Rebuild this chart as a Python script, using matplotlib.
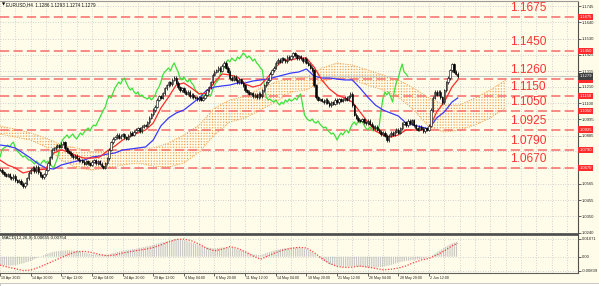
"""EURUSD H4 chart with Ichimoku cloud, support/resistance levels and MACD."""

import numpy as np
import matplotlib
matplotlib.use("Agg")
from matplotlib import pyplot as plt
from matplotlib import transforms
from matplotlib.patches import Rectangle

W, H = 599, 286
BG = "#fffde9"

symbol_line = "EURUSD,H4  1.1286 1.1293 1.1274 1.1279"
macd_line = "MACD(12,26,9) 0.00655 0.00754"

# H4 closes, one per bar (10 Apr 2015 04:00 ... 5 Jun 2015 00:00)
close = [
    1.0657, 1.0643, 1.0630, 1.0617, 1.0630, 1.0610, 1.0603, 1.0617, 1.0590, 1.0577,
    1.0584, 1.0564, 1.0550, 1.0570, 1.0603, 1.0637, 1.0657, 1.0670, 1.0650, 1.0677,
    1.0643, 1.0623, 1.0610, 1.0630, 1.0657, 1.0703, 1.0743, 1.0790, 1.0803, 1.0810,
    1.0823, 1.0810, 1.0830, 1.0843, 1.0803, 1.0783, 1.0770, 1.0756, 1.0743, 1.0750,
    1.0736, 1.0723, 1.0723, 1.0710, 1.0697, 1.0716, 1.0703, 1.0690, 1.0710, 1.0723,
    1.0703, 1.0716, 1.0697, 1.0683, 1.0670, 1.0703, 1.0736, 1.0790, 1.0843, 1.0863,
    1.0876, 1.0890, 1.0870, 1.0883, 1.0896, 1.0876, 1.0863, 1.0883, 1.0903, 1.0890,
    1.0910, 1.0923, 1.0936, 1.0916, 1.0943, 1.0956, 1.0950, 1.0976, 1.1003, 1.1029,
    1.1056, 1.1076, 1.1123, 1.1149, 1.1136, 1.1169, 1.1202, 1.1222, 1.1242, 1.1229,
    1.1256, 1.1269, 1.1236, 1.1209, 1.1189, 1.1202, 1.1176, 1.1163, 1.1176, 1.1149,
    1.1156, 1.1142, 1.1136, 1.1129, 1.1142, 1.1123, 1.1136, 1.1156, 1.1189, 1.1209,
    1.1242, 1.1289, 1.1309, 1.1322, 1.1336, 1.1316, 1.1349, 1.1369, 1.1336, 1.1309,
    1.1269, 1.1256, 1.1276, 1.1256, 1.1242, 1.1262, 1.1236, 1.1222, 1.1189, 1.1176,
    1.1163, 1.1169, 1.1149, 1.1156, 1.1142, 1.1163, 1.1149, 1.1189, 1.1222, 1.1242,
    1.1256, 1.1296, 1.1322, 1.1336, 1.1369, 1.1389, 1.1376, 1.1402, 1.1389, 1.1382,
    1.1409, 1.1396, 1.1415, 1.1435, 1.1422, 1.1402, 1.1415, 1.1402, 1.1382, 1.1396,
    1.1369, 1.1356, 1.1336, 1.1322, 1.1222, 1.1142, 1.1123, 1.1129, 1.1116, 1.1109,
    1.1123, 1.1103, 1.1089, 1.1109, 1.1096, 1.1123, 1.1109, 1.1129, 1.1116, 1.1123,
    1.1136, 1.1123, 1.1149, 1.1163, 1.1089, 1.1023, 1.1003, 1.0989, 1.0983, 1.0996,
    1.0976, 1.0969, 1.0983, 1.0963, 1.0950, 1.0936, 1.0943, 1.0923, 1.0910, 1.0896,
    1.0903, 1.0883, 1.0856, 1.0883, 1.0903, 1.0890, 1.0910, 1.0923, 1.0903, 1.0936,
    1.0963, 1.0976, 1.0956, 1.0983, 1.0969, 1.0989, 1.0956, 1.0936, 1.0923, 1.0943,
    1.0930, 1.0916, 1.0936, 1.0923, 1.0950, 1.1056, 1.1136, 1.1176, 1.1156, 1.1176,
    1.1142, 1.1109, 1.1189, 1.1242, 1.1269, 1.1322, 1.1362, 1.1309, 1.1296, 1.1279,
]
chikou_shift = 26

# indicator lines sampled every 4 bars
line_bars = list(range(0, 240, 4)) + [239]
tenkan = [
    1.0723, 1.0690, 1.0670, 1.0637, 1.0650, 1.0657, 1.0663, 1.0770, 1.0790, 1.0776,
    1.0750, 1.0736, 1.0736, 1.0743, 1.0783, 1.0816, 1.0856, 1.0883, 1.0903, 1.0923,
    1.0969, 1.1069, 1.1142, 1.1222, 1.1236, 1.1202, 1.1163, 1.1169, 1.1242, 1.1296,
    1.1289, 1.1276, 1.1229, 1.1209, 1.1222, 1.1276, 1.1342, 1.1389, 1.1389, 1.1402,
    1.1402, 1.1342, 1.1256, 1.1196, 1.1156, 1.1136, 1.1109, 1.1043, 1.0976, 1.0916,
    1.0890, 1.0876, 1.0890, 1.0923, 1.0923, 1.0923, 1.0930, 1.1043, 1.1109, 1.1209,
    1.1256,
]
kijun = [
    1.0823, 1.0816, 1.0803, 1.0770, 1.0736, 1.0697, 1.0670, 1.0663, 1.0690, 1.0703,
    1.0716, 1.0723, 1.0743, 1.0750, 1.0763, 1.0770, 1.0790, 1.0796, 1.0803, 1.0810,
    1.0856, 1.0950, 1.1003, 1.1036, 1.1056, 1.1096, 1.1136, 1.1189, 1.1209, 1.1216,
    1.1222, 1.1236, 1.1236, 1.1249, 1.1256, 1.1262, 1.1276, 1.1289, 1.1302, 1.1309,
    1.1329, 1.1282, 1.1269, 1.1269, 1.1262, 1.1256, 1.1256, 1.1202, 1.1142, 1.1089,
    1.1056, 1.1036, 1.1016, 1.0969, 1.0956, 1.0943, 1.0930, 1.1003, 1.1043, 1.1109,
    1.1136,
]
# MACD main and signal (x 1e-3), same sampling
macd_main = [
    -5.0, -5.5, -5.0, -4.0, -2.5, -0.5, 1.5, 3.0, 3.5, 3.8,
    3.5, 2.5, 1.5, 1.0, 1.2, 2.5, 3.5, 4.2, 5.0, 6.0,
    7.0, 8.5, 9.5, 10.5, 10.0, 8.5, 7.0, 5.5, 5.0, 5.5,
    5.5, 4.5, 3.0, 1.5, 1.0, 2.5, 4.0, 5.0, 5.5, 5.5,
    4.5, 2.0, -2.0, -4.5, -5.5, -6.0, -5.5, -6.0, -6.5, -6.5,
    -6.0, -5.0, -3.5, -2.5, -2.0, -1.5, -0.5, 2.5, 5.5, 8.0,
    9.0,
]
macd_signal = [
    -5.0, -6.2, -7.2, -8.2, -8.0, -6.5, -4.5, -2.5, -0.5, 1.5,
    3.0, 3.2, 2.5, 1.3, 0.6, 1.0, 2.2, 3.0, 3.8, 4.5,
    5.5, 7.0, 8.8, 10.3, 10.5, 9.5, 7.5, 5.0, 3.5, 4.5,
    6.0, 5.0, 3.0, 0.5, -1.5, 0.5, 2.5, 4.0, 5.0, 5.6,
    5.2, 2.5, -1.0, -4.0, -5.8, -6.4, -6.2, -5.6, -6.2, -7.0,
    -7.8, -7.5, -6.8, -5.5, -3.5, -2.0, -1.0, 1.0, 3.5, 6.5,
    8.0,
]

# kumo (already shifted 26 bars forward), sampled every 8 bars
cloud_bars = list(range(0, 265, 8))
cloud_upper = [
    1.0949, 1.0929, 1.0903, 1.0869, 1.0823, 1.0803, 1.0776, 1.0783, 1.0790, 1.0803,
    1.0803, 1.0836, 1.0890, 1.0956, 1.1069, 1.1122, 1.1149, 1.1202, 1.1242, 1.1269,
    1.1275, 1.1335, 1.1369, 1.1355, 1.1322, 1.1289, 1.1256, 1.1202, 1.1136, 1.1089,
    1.1089, 1.1136, 1.1189, 1.1256,
]
cloud_lower = [
    1.0896, 1.0876, 1.0856, 1.0809, 1.0723, 1.0670, 1.0656, 1.0670, 1.0690, 1.0703,
    1.0683, 1.0676, 1.0703, 1.0776, 1.0890, 1.0976, 1.1003, 1.1056, 1.1109, 1.1176,
    1.1189, 1.1242, 1.1275, 1.1256, 1.1222, 1.1189, 1.1142, 1.1056, 1.0943, 1.0909,
    1.0923, 1.0956, 1.1003, 1.1069,
]

levels = [1.1675, 1.1450, 1.1260, 1.1150, 1.1050, 1.0925, 1.0790, 1.0670]
level_labels = ["1.1675", "1.1450", "1.1260", "1.1150", "1.1050", "1.0925", "1.0790", "1.0670"]
last_price = 1.1279

price_ticks = [1.1745, 1.1640, 1.1530, 1.1425, 1.1315, 1.1210, 1.1100, 1.0995, 1.0885,
               1.0565, 1.0455, 1.0350, 1.0240]
price_tick_labels = ["1.1745", "1.1640", "1.1530", "1.1425", "1.1315", "1.1210", "1.1100",
                     "1.0995", "1.0885", "1.0565", "1.0455", "1.0350", "1.0240"]
hidden_grid = [1.0780, 1.0670]

macd_ticks = [0.01071, 0.0, -0.00839]
macd_tick_labels = ["0.01071", "0.00", "-0.00839"]

time_labels = ["10 Apr 2015", "14 Apr 20:00", "17 Apr 12:00", "22 Apr 04:00", "24 Apr 20:00",
               "29 Apr 12:00", "4 May 04:00", "6 May 20:00", "11 May 12:00", "14 May 04:00",
               "18 May 20:00", "21 May 12:00", "26 May 04:00", "28 May 20:00", "2 Jun 12:00"]
time_bars = list(range(0, 225, 16))


def box(x0, y0, x1, y1):
    """Axes rectangle from pixel corners (origin top-left)."""
    return [x0 / W, 1 - y1 / H, (x1 - x0) / W, (y1 - y0) / H]


plt.rcParams["font.family"] = ["Liberation Sans", "DejaVu Sans"]

fig = plt.figure(figsize=(W / 100, H / 100), dpi=100, facecolor=BG)
ax = fig.add_axes(box(0, 1, 578, 233.5), facecolor=BG)
mx = fig.add_axes(box(0, 235, 578, 272.5), facecolor=BG, sharex=ax)

ax.set_xlim(0.73, 301.8)
ax.set_ylim(1.0234, 1.17815)
mx.set_ylim(-0.00943, 0.01296)

grid_kw = dict(color="#c4c4c4", lw=0.6, dashes=(1, 2), zorder=0.5)
for b in range(0, 302, 8):
    ax.axvline(b, **grid_kw)
    mx.axvline(b, **grid_kw)
for p in price_ticks + hidden_grid:
    ax.axhline(p, **grid_kw)
for v in macd_ticks:
    mx.axhline(v, **grid_kw)

# kumo: dotted vertical hatching (orange lines cut by background stripes)
plt.rcParams["hatch.linewidth"] = 0.8
ax.fill_between(cloud_bars, cloud_lower, cloud_upper, facecolor="none",
                edgecolor="#f09a4a", hatch="|" * 6, lw=0, zorder=1)
plt.rcParams["hatch.linewidth"] = 1.1
ax.fill_between(cloud_bars, cloud_lower, cloud_upper, facecolor="none",
                edgecolor=BG, hatch="-" * 6, lw=0, zorder=1.1)
for edge in (cloud_upper, cloud_lower):
    ax.plot(cloud_bars, edge, color="#f0a050", lw=0.7, ls=(0, (1, 1.5)), zorder=1.2)

# levels
for lv, lbl in zip(levels, level_labels):
    ax.axhline(lv, color="#f86a6a", lw=1.1, dashes=(6, 2.8), zorder=2)
    ax.annotate(lbl, xy=(266.4, lv), xytext=(0, 3), textcoords="offset pixels",
                ha="left", va="bottom", fontsize=8.6, color="#ff3434", zorder=6)
ax.axhline(last_price, color="#c8c8c8", lw=0.8, zorder=2)

# indicator lines
bars = np.arange(len(close))
ax.plot(bars[:-chikou_shift], close[chikou_shift:], color="#3ee03a", lw=0.9, zorder=3)
ax.plot(line_bars, kijun, color="#3a3aff", lw=0.9, zorder=3)
ax.plot(line_bars, tenkan, color="#ff2a2a", lw=0.9, zorder=3)

# candles
c = np.array(close)
o = np.r_[c[0], c[:-1]]
wick = 0.0010
ax.vlines(bars, np.minimum(o, c) - wick, np.maximum(o, c) + wick, color="#1a1a1a",
          lw=0.6, zorder=4)
ax.bar(bars, np.abs(c - o), bottom=np.minimum(o, c), width=0.7,
       color=np.where(c >= o, "white", "black"), edgecolor="black", linewidth=0.4, zorder=4.5)

# macd
plt.rcParams["hatch.linewidth"] = 0.6
mx.fill_between(line_bars, 0, np.array(macd_main) * 1e-3, facecolor="none",
                edgecolor="#bdbdbd", hatch="|" * 9, lw=0, zorder=1)
mx.plot(line_bars, np.array(macd_signal) * 1e-3, color="#ff4040", lw=0.9,
        ls=(0, (1, 1.3)), zorder=3)

# axes styling
for a in (ax, mx):
    a.spines["left"].set_visible(False)
    a.spines["right"].set_color("#505050")
    a.spines["right"].set_linewidth(0.8)
    a.yaxis.tick_right()
    a.tick_params(axis="y", labelsize=3, length=2, width=0.5, pad=1, colors="#222222")
ax.spines["top"].set_color("#9a9a9a")
ax.spines["top"].set_linewidth(0.8)
ax.spines["bottom"].set_color("#4a4a4a")
ax.spines["bottom"].set_linewidth(1.2)
mx.spines["top"].set_color("#4a4a4a")
mx.spines["top"].set_linewidth(1.2)
mx.spines["bottom"].set_color("#606060")
mx.spines["bottom"].set_linewidth(0.8)

ax.set_yticks(price_ticks, price_tick_labels)
mx.set_yticks(macd_ticks, macd_tick_labels)
ax.tick_params(axis="x", bottom=False, labelbottom=False)
mx.set_xticks(time_bars)
mx.tick_params(axis="x", length=2, width=0.5, labelbottom=False, colors="#222222")

lab_tr = transforms.blended_transform_factory(mx.transData, fig.transFigure)
for b, lbl in zip(time_bars, time_labels):
    mx.text(b + 0.6, 1 - 278 / H, lbl, transform=lab_tr, fontsize=2.6, ha="left",
            va="center", color="#222222", clip_on=False)

# price boxes on the scale
tag_tr = transforms.blended_transform_factory(ax.transAxes, ax.transData)
for lv, lbl in zip(levels, level_labels):
    ax.text(1.003, lv, lbl, transform=tag_tr, fontsize=3, color="white", ha="left",
            va="center", clip_on=False, zorder=7,
            bbox=dict(boxstyle="square,pad=0.3", fc="#ff2c2c", ec="none"))
ax.text(1.003, last_price, f"{last_price:.4f}", transform=tag_tr, fontsize=3, color="white",
        ha="left", va="center", clip_on=False, zorder=7,
        bbox=dict(boxstyle="square,pad=0.3", fc="#404040", ec="none"))

# header texts and chart shift marker
fig.text(1.5 / W, 1 - 4.5 / H, "\u25bc", fontsize=3, family="DejaVu Sans", va="center")
fig.text(6 / W, 1 - 4.5 / H, symbol_line, fontsize=3.3, va="center", color="#111111")
fig.text(2 / W, 1 - 238.5 / H, macd_line, fontsize=3.2, va="center", color="#111111")
ax.plot([240.8], [1.0], marker="v", ms=3, color="#9a9a9a", transform=tag_tr,
        clip_on=False, zorder=8)

fig.patches.append(Rectangle((0, 0), 1, 3 / H, transform=fig.transFigure,
                             fc="white", ec="#b0b0b0", lw=0.5))

fig.savefig("out.png", dpi=100, facecolor=BG)
